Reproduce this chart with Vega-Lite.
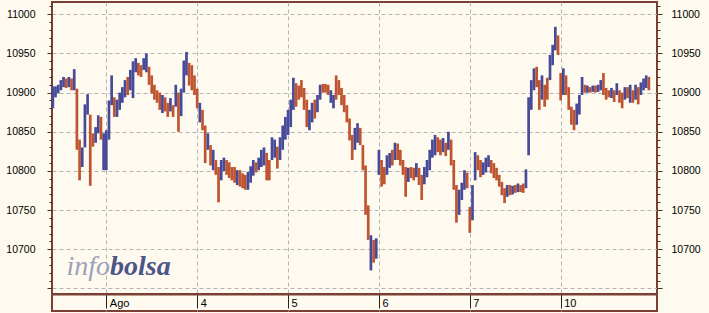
{
  "$schema": "https://vega.github.io/schema/vega-lite/v6.json",
  "width": 605,
  "height": 309,
  "autosize": {"type": "none"},
  "padding": {"left": 52, "top": 2, "right": 52, "bottom": 2},
  "background": "#fffaef",
  "config": {
    "view": {"stroke": "#7a4035", "strokeWidth": 2, "fill": "#fffaef"}
  },
  "resolve": {"scale": {"y": "shared", "x": "shared"}, "axis": {"y": "independent"}},
  "layer": [
    {
      "data": {"values": [
        {"m":-300,"l":10880,"h":10908,"c":"u"},{"m":-285,"l":10894,"h":10908,"c":"u"},{"m":-270,"l":10899,"h":10910,"c":"u"},{"m":-255,"l":10903,"h":10916,"c":"u"},{"m":-240,"l":10907,"h":10920,"c":"u"},{"m":-225,"l":10906,"h":10918,"c":"d"},{"m":-210,"l":10907,"h":10920,"c":"u"},{"m":-195,"l":10903,"h":10918,"c":"d"},{"m":-180,"l":10903,"h":10930,"c":"u"},{"m":-165,"l":10827,"h":10905,"c":"d"},{"m":-150,"l":10788,"h":10840,"c":"d"},{"m":-135,"l":10805,"h":10830,"c":"u"},{"m":-120,"l":10830,"h":10885,"c":"u"},{"m":-105,"l":10872,"h":10898,"c":"u"},{"m":-90,"l":10781,"h":10872,"c":"d"},{"m":-75,"l":10831,"h":10848,"c":"d"},{"m":-60,"l":10836,"h":10856,"c":"u"},{"m":-45,"l":10848,"h":10871,"c":"u"},{"m":-30,"l":10840,"h":10869,"c":"d"},{"m":-15,"l":10801,"h":10848,"c":"u"},
        {"m":0,"l":10801,"h":10852,"c":"u"},{"m":15,"l":10840,"h":10890,"c":"u"},{"m":30,"l":10884,"h":10922,"c":"u"},{"m":45,"l":10869,"h":10894,"c":"d"},{"m":60,"l":10869,"h":10891,"c":"u"},{"m":75,"l":10878,"h":10900,"c":"u"},{"m":90,"l":10887,"h":10907,"c":"u"},{"m":105,"l":10894,"h":10916,"c":"u"},{"m":120,"l":10897,"h":10920,"c":"d"},{"m":135,"l":10903,"h":10929,"c":"u"},{"m":150,"l":10893,"h":10940,"c":"u"},{"m":165,"l":10926,"h":10944,"c":"u"},{"m":180,"l":10922,"h":10938,"c":"d"},{"m":195,"l":10920,"h":10935,"c":"d"},{"m":210,"l":10929,"h":10944,"c":"u"},{"m":225,"l":10926,"h":10950,"c":"u"},{"m":240,"l":10910,"h":10933,"c":"d"},{"m":255,"l":10899,"h":10922,"c":"d"},{"m":270,"l":10891,"h":10910,"c":"d"},{"m":285,"l":10887,"h":10903,"c":"d"},{"m":300,"l":10878,"h":10900,"c":"d"},{"m":315,"l":10874,"h":10897,"c":"u"},{"m":330,"l":10876,"h":10894,"c":"d"},{"m":345,"l":10869,"h":10887,"c":"d"},{"m":360,"l":10876,"h":10893,"c":"u"},{"m":375,"l":10869,"h":10884,"c":"d"},{"m":390,"l":10882,"h":10910,"c":"u"},{"m":405,"l":10850,"h":10900,"c":"d"},{"m":420,"l":10870,"h":10905,"c":"u"},{"m":435,"l":10900,"h":10941,"c":"u"},{"m":450,"l":10922,"h":10952,"c":"u"},{"m":465,"l":10909,"h":10938,"c":"d"},{"m":480,"l":10903,"h":10935,"c":"d"},{"m":495,"l":10897,"h":10922,"c":"d"},
        {"m":510,"l":10880,"h":10905,"c":"d"},{"m":525,"l":10862,"h":10887,"c":"u"},{"m":540,"l":10852,"h":10878,"c":"d"},{"m":555,"l":10810,"h":10858,"c":"d"},{"m":570,"l":10827,"h":10848,"c":"u"},{"m":585,"l":10807,"h":10833,"c":"d"},{"m":600,"l":10801,"h":10827,"c":"u"},{"m":615,"l":10795,"h":10814,"c":"d"},{"m":630,"l":10760,"h":10805,"c":"d"},{"m":645,"l":10788,"h":10814,"c":"u"},{"m":660,"l":10800,"h":10817,"c":"u"},{"m":675,"l":10795,"h":10814,"c":"d"},{"m":690,"l":10791,"h":10811,"c":"d"},{"m":705,"l":10788,"h":10805,"c":"d"},{"m":720,"l":10785,"h":10805,"c":"d"},{"m":735,"l":10782,"h":10801,"c":"u"},{"m":750,"l":10780,"h":10801,"c":"d"},{"m":765,"l":10778,"h":10797,"c":"d"},{"m":780,"l":10776,"h":10795,"c":"d"},{"m":795,"l":10776,"h":10799,"c":"u"},{"m":810,"l":10785,"h":10806,"c":"u"},{"m":825,"l":10794,"h":10814,"c":"u"},{"m":840,"l":10798,"h":10811,"c":"d"},{"m":855,"l":10801,"h":10817,"c":"u"},{"m":870,"l":10805,"h":10827,"c":"u"},{"m":885,"l":10807,"h":10830,"c":"u"},{"m":900,"l":10788,"h":10823,"c":"d"},{"m":915,"l":10788,"h":10814,"c":"d"},{"m":930,"l":10814,"h":10843,"c":"u"},{"m":945,"l":10817,"h":10840,"c":"u"},{"m":960,"l":10803,"h":10831,"c":"d"},{"m":975,"l":10814,"h":10843,"c":"u"},{"m":990,"l":10827,"h":10858,"c":"u"},{"m":1005,"l":10840,"h":10869,"c":"u"},
        {"m":1020,"l":10846,"h":10878,"c":"u"},{"m":1035,"l":10856,"h":10891,"c":"u"},{"m":1050,"l":10878,"h":10919,"c":"u"},{"m":1065,"l":10882,"h":10912,"c":"d"},{"m":1080,"l":10891,"h":10909,"c":"d"},{"m":1095,"l":10894,"h":10916,"c":"d"},{"m":1110,"l":10878,"h":10906,"c":"d"},{"m":1125,"l":10856,"h":10891,"c":"d"},{"m":1140,"l":10852,"h":10878,"c":"u"},{"m":1155,"l":10862,"h":10887,"c":"u"},{"m":1170,"l":10867,"h":10891,"c":"d"},{"m":1185,"l":10875,"h":10897,"c":"u"},{"m":1200,"l":10891,"h":10910,"c":"u"},{"m":1215,"l":10900,"h":10911,"c":"d"},{"m":1230,"l":10900,"h":10911,"c":"d"},{"m":1245,"l":10897,"h":10910,"c":"d"},{"m":1260,"l":10887,"h":10903,"c":"u"},{"m":1275,"l":10880,"h":10897,"c":"u"},{"m":1290,"l":10891,"h":10922,"c":"d"},{"m":1305,"l":10897,"h":10916,"c":"d"},{"m":1320,"l":10884,"h":10906,"c":"d"},{"m":1335,"l":10875,"h":10897,"c":"d"},{"m":1350,"l":10862,"h":10884,"c":"d"},{"m":1365,"l":10839,"h":10867,"c":"d"},{"m":1380,"l":10814,"h":10846,"c":"d"},{"m":1395,"l":10827,"h":10855,"c":"u"},{"m":1410,"l":10836,"h":10861,"c":"u"},{"m":1425,"l":10833,"h":10855,"c":"d"},{"m":1440,"l":10801,"h":10833,"c":"d"},{"m":1455,"l":10744,"h":10807,"c":"d"},{"m":1470,"l":10712,"h":10756,"c":"d"},{"m":1485,"l":10673,"h":10718,"c":"u"},{"m":1500,"l":10683,"h":10712,"c":"d"},{"m":1515,"l":10688,"h":10714,"c":"u"},
        {"m":1530,"l":10795,"h":10827,"c":"u"},{"m":1545,"l":10780,"h":10814,"c":"d"},{"m":1560,"l":10783,"h":10805,"c":"d"},{"m":1575,"l":10795,"h":10820,"c":"u"},{"m":1590,"l":10804,"h":10823,"c":"u"},{"m":1605,"l":10807,"h":10827,"c":"d"},{"m":1620,"l":10814,"h":10836,"c":"u"},{"m":1635,"l":10814,"h":10835,"c":"d"},{"m":1650,"l":10807,"h":10827,"c":"d"},{"m":1665,"l":10795,"h":10814,"c":"d"},{"m":1680,"l":10767,"h":10805,"c":"d"},{"m":1695,"l":10786,"h":10804,"c":"u"},{"m":1710,"l":10791,"h":10805,"c":"d"},{"m":1725,"l":10788,"h":10804,"c":"d"},{"m":1740,"l":10792,"h":10810,"c":"u"},{"m":1755,"l":10782,"h":10804,"c":"d"},{"m":1770,"l":10763,"h":10795,"c":"d"},{"m":1785,"l":10783,"h":10805,"c":"u"},{"m":1800,"l":10792,"h":10814,"c":"u"},{"m":1815,"l":10801,"h":10827,"c":"u"},{"m":1830,"l":10817,"h":10840,"c":"u"},{"m":1845,"l":10820,"h":10846,"c":"u"},{"m":1860,"l":10824,"h":10843,"c":"d"},{"m":1875,"l":10820,"h":10840,"c":"d"},{"m":1890,"l":10824,"h":10842,"c":"u"},{"m":1905,"l":10819,"h":10836,"c":"d"},{"m":1920,"l":10827,"h":10850,"c":"u"},{"m":1935,"l":10807,"h":10840,"c":"d"},{"m":1950,"l":10776,"h":10814,"c":"d"},{"m":1965,"l":10734,"h":10782,"c":"d"},{"m":1980,"l":10744,"h":10776,"c":"u"},{"m":1995,"l":10763,"h":10785,"c":"u"},{"m":2010,"l":10776,"h":10801,"c":"u"},{"m":2025,"l":10778,"h":10798,"c":"d"},
        {"m":2040,"l":10721,"h":10754,"c":"d"},{"m":2055,"l":10737,"h":10782,"c":"u"},{"m":2070,"l":10788,"h":10824,"c":"u"},{"m":2085,"l":10801,"h":10820,"c":"d"},{"m":2100,"l":10792,"h":10814,"c":"d"},{"m":2115,"l":10795,"h":10811,"c":"u"},{"m":2130,"l":10798,"h":10817,"c":"u"},{"m":2145,"l":10805,"h":10820,"c":"u"},{"m":2160,"l":10797,"h":10814,"c":"d"},{"m":2175,"l":10791,"h":10810,"c":"d"},{"m":2190,"l":10788,"h":10804,"c":"d"},{"m":2205,"l":10780,"h":10795,"c":"d"},{"m":2220,"l":10769,"h":10786,"c":"d"},{"m":2235,"l":10759,"h":10778,"c":"d"},{"m":2250,"l":10767,"h":10782,"c":"u"},{"m":2265,"l":10769,"h":10782,"c":"d"},{"m":2280,"l":10770,"h":10781,"c":"u"},{"m":2295,"l":10772,"h":10782,"c":"d"},{"m":2310,"l":10773,"h":10784,"c":"u"},{"m":2325,"l":10773,"h":10782,"c":"d"},{"m":2340,"l":10772,"h":10784,"c":"d"},{"m":2355,"l":10778,"h":10802,"c":"u"},{"m":2370,"l":10820,"h":10894,"c":"u"},{"m":2385,"l":10878,"h":10916,"c":"u"},{"m":2400,"l":10903,"h":10931,"c":"u"},{"m":2415,"l":10907,"h":10933,"c":"d"},{"m":2430,"l":10878,"h":10916,"c":"d"},{"m":2445,"l":10891,"h":10922,"c":"u"},{"m":2460,"l":10882,"h":10910,"c":"d"},{"m":2475,"l":10891,"h":10919,"c":"d"},{"m":2490,"l":10916,"h":10948,"c":"u"},{"m":2505,"l":10935,"h":10961,"c":"u"},{"m":2520,"l":10954,"h":10984,"c":"u"},{"m":2535,"l":10948,"h":10973,"c":"d"},
        {"m":2550,"l":10890,"h":10925,"c":"d"},{"m":2565,"l":10897,"h":10931,"c":"u"},{"m":2580,"l":10897,"h":10922,"c":"d"},{"m":2595,"l":10878,"h":10907,"c":"d"},{"m":2610,"l":10859,"h":10882,"c":"d"},{"m":2625,"l":10852,"h":10878,"c":"d"},{"m":2640,"l":10859,"h":10886,"c":"u"},{"m":2655,"l":10872,"h":10897,"c":"u"},{"m":2670,"l":10897,"h":10920,"c":"u"},{"m":2685,"l":10900,"h":10910,"c":"d"},{"m":2700,"l":10900,"h":10909,"c":"u"},{"m":2715,"l":10900,"h":10907,"c":"d"},{"m":2730,"l":10901,"h":10909,"c":"u"},{"m":2745,"l":10900,"h":10909,"c":"d"},{"m":2760,"l":10901,"h":10910,"c":"u"},{"m":2775,"l":10903,"h":10916,"c":"u"},{"m":2790,"l":10897,"h":10925,"c":"d"},{"m":2805,"l":10891,"h":10906,"c":"d"},{"m":2820,"l":10894,"h":10903,"c":"d"},{"m":2835,"l":10893,"h":10906,"c":"u"},{"m":2850,"l":10888,"h":10903,"c":"d"},{"m":2865,"l":10897,"h":10912,"c":"u"},{"m":2880,"l":10887,"h":10903,"c":"d"},{"m":2895,"l":10880,"h":10900,"c":"d"},{"m":2910,"l":10891,"h":10907,"c":"u"},{"m":2925,"l":10893,"h":10907,"c":"d"},{"m":2940,"l":10887,"h":10910,"c":"u"},{"m":2955,"l":10887,"h":10903,"c":"d"},{"m":2970,"l":10891,"h":10910,"c":"u"},{"m":2985,"l":10885,"h":10907,"c":"d"},{"m":3000,"l":10897,"h":10913,"c":"u"},{"m":3015,"l":10903,"h":10918,"c":"u"},{"m":3030,"l":10906,"h":10922,"c":"u"},{"m":3045,"l":10903,"h":10920,"c":"d"}
      ]},
      "mark": {"type": "rule", "strokeWidth": 2.7},
      "encoding": {
        "x": {"field": "m", "type": "quantitative", "title": null,
          "scale": {"domain": [-304.7, 3090.5], "nice": false, "zero": false},
          "axis": {"values": [0, 510, 1020, 1530, 2040, 2550],
            "labelExpr": "datum.value == 0 ? 'Ago' : datum.value == 510 ? '4' : datum.value == 1020 ? '5' : datum.value == 1530 ? '6' : datum.value == 2040 ? '7' : '10'",
            "offset": -17, "tickSize": 14, "tickColor": "#222222", "tickWidth": 1,
            "domain": true, "domainColor": "#7a4035", "domainWidth": 2,
            "labelAlign": "left", "labelBaseline": "alphabetic", "labelPadding": -2, "labelOffset": 3,
            "labelFont": "Liberation Sans", "labelFontSize": 11, "labelColor": "#000000",
            "labelFlush": false, "labelOverlap": false,
            "grid": true, "gridDash": [4, 3], "gridColor": "#b4b4b4", "gridWidth": 1}},
        "y": {"field": "l", "type": "quantitative", "title": null,
          "scale": {"domain": [10621.2, 11015.7], "nice": false, "zero": false},
          "axis": {"orient": "left", "values": [10650, 10700, 10750, 10800, 10850, 10900, 10950, 11000],
            "labelExpr": "datum.value == 10650 ? '' : datum.label", "format": "d",
            "tickSize": 5, "tickColor": "#4a3028", "tickWidth": 1, "domain": false,
            "labelPadding": 12, "labelFont": "Liberation Sans", "labelFontSize": 10.5, "labelColor": "#000000",
            "labelOverlap": false, "labelFlush": false,
            "grid": true, "gridDash": [4, 3], "gridColor": "#b4b4b4", "gridWidth": 1}},
        "y2": {"field": "h"},
        "color": {"field": "c", "type": "nominal", "legend": null,
          "scale": {"domain": ["u", "d"], "range": ["#464a98", "#bf5530"]}}
      }
    },
    {
      "data": {"values": [{"m": 21, "v": 10667, "s": "info"}]},
      "mark": {"type": "text", "align": "right", "baseline": "alphabetic", "font": "Liberation Serif", "fontStyle": "italic", "fontSize": 28, "color": "#9ca1bb"},
      "encoding": {
        "x": {"field": "m", "type": "quantitative", "title": null, "scale": {"domain": [-304.7, 3090.5], "nice": false, "zero": false}},
        "y": {"field": "v", "type": "quantitative", "title": null,
          "scale": {"domain": [10621.2, 11015.7], "nice": false, "zero": false},
          "axis": {"orient": "right", "values": [10650, 10700, 10750, 10800, 10850, 10900, 10950, 11000],
            "labelExpr": "datum.value == 10650 ? '' : datum.label", "format": "d",
            "tickSize": 5, "tickColor": "#4a3028", "tickWidth": 1, "domain": false,
            "labelPadding": 9, "labelFont": "Liberation Sans", "labelFontSize": 10.5, "labelColor": "#000000",
            "labelOverlap": false, "labelFlush": false, "grid": false}},
        "text": {"field": "s"}
      }
    },
    {
      "data": {"values": [{"m": 21, "v": 10667, "s": "bolsa"}]},
      "mark": {"type": "text", "align": "left", "baseline": "alphabetic", "font": "Liberation Serif", "fontStyle": "italic", "fontWeight": "bold", "fontSize": 28, "color": "#4d5588"},
      "encoding": {
        "x": {"field": "m", "type": "quantitative", "title": null, "scale": {"domain": [-304.7, 3090.5], "nice": false, "zero": false}},
        "y": {"field": "v", "type": "quantitative", "title": null,
          "scale": {"domain": [10621.2, 11015.7], "nice": false, "zero": false},
          "axis": {"orient": "left", "values": [10650, 10660, 10670, 10680, 10690, 10700, 10710, 10720, 10730, 10740, 10750, 10760, 10770, 10780, 10790, 10800, 10810, 10820, 10830, 10840, 10850, 10860, 10870, 10880, 10890, 10900, 10910, 10920, 10930, 10940, 10950, 10960, 10970, 10980, 10990, 11000, 11010],
            "tickSize": 3, "tickColor": "#4a3028", "tickWidth": 1, "domain": false, "labels": false, "grid": false}},
        "text": {"field": "s"}
      }
    },
    {
      "data": {"values": [{"v": 10643}]},
      "mark": {"type": "rule", "color": "#7a4035", "strokeWidth": 2},
      "encoding": {
        "y": {"field": "v", "type": "quantitative", "title": null,
          "scale": {"domain": [10621.2, 11015.7], "nice": false, "zero": false},
          "axis": {"orient": "right", "values": [10650, 10660, 10670, 10680, 10690, 10700, 10710, 10720, 10730, 10740, 10750, 10760, 10770, 10780, 10790, 10800, 10810, 10820, 10830, 10840, 10850, 10860, 10870, 10880, 10890, 10900, 10910, 10920, 10930, 10940, 10950, 10960, 10970, 10980, 10990, 11000, 11010],
            "tickSize": 3, "tickColor": "#4a3028", "tickWidth": 1, "domain": false, "labels": false, "grid": false}}
      }
    }
  ]
}
